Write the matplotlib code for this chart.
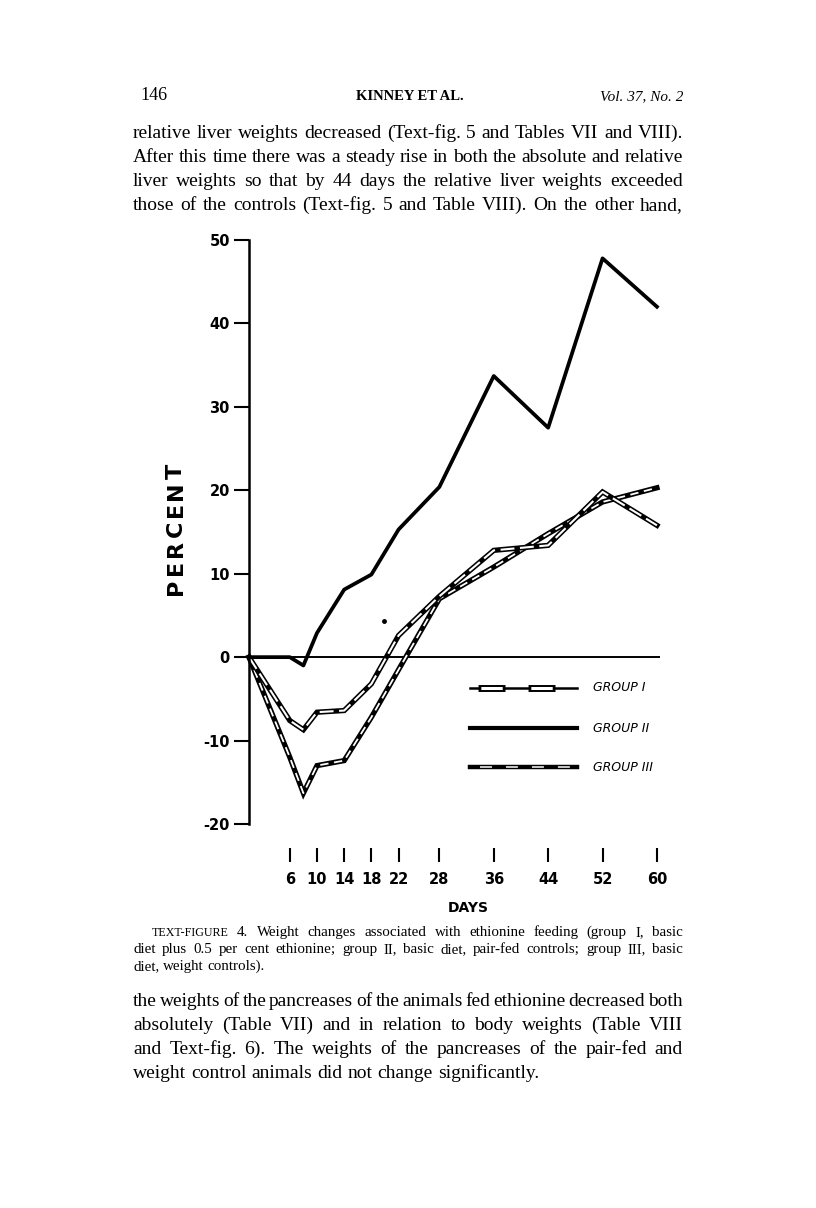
import numpy as np
import matplotlib.pyplot as plt

plt.rcParams['lines.scale_dashes'] = False

# --- chart data ---
days = [0, 6, 8, 10, 14, 18, 22, 28, 36, 44, 52, 60]
group1 = [0, -7.6, -8.7, -6.6, -6.4, -3.2, 2.6, 7.3, 12.8, 13.4, 19.8, 15.8]
group2 = [0, 0, -1.0, 2.9, 8.1, 9.9, 15.3, 20.4, 33.7, 27.5, 47.8, 42.0]
group3 = [0, -12.0, -16.3, -13.0, -12.4, -7.2, -1.5, 7.0, 10.8, 14.8, 18.6, 20.3]
tick_days = [6, 10, 14, 18, 22, 28, 36, 44, 52, 60]
y_ticks = [-20, -10, 0, 10, 20, 30, 40, 50]
y_labels = ['-20', '-10', '0', '10', '20', '30', '40', '50']
legend_labels = ['GROUP I', 'GROUP II', 'GROUP III']
stray_day, stray_val = [19.9], [4.3]

# --- page text ---
header = ['146', 'KINNEY ET AL.', 'Vol. 37, No. 2']
para_top = [
    "relative liver weights decreased (Text-fig. 5 and Tables VII and VIII).",
    "After this time there was a steady rise in both the absolute and relative",
    "liver weights so that by 44 days the relative liver weights exceeded",
    "those of the controls (Text-fig. 5 and Table VIII). On the other hand,",
]
caption = [
    "TEXT-FIGURE 4. Weight changes associated with ethionine feeding (group I, basic",
    "diet plus 0.5 per cent ethionine; group II, basic diet, pair-fed controls; group III, basic",
    "diet, weight controls).",
]
para_bottom = [
    "the weights of the pancreases of the animals fed ethionine decreased both",
    "absolutely (Table VII) and in relation to body weights (Table VIII",
    "and Text-fig. 6). The weights of the pancreases of the pair-fed and",
    "weight control animals did not change significantly.",
]

W, H = 816, 1208
fig = plt.figure(figsize=(W / 100, H / 100), dpi=100)
renderer = fig.canvas.get_renderer()
serif = 'Liberation Serif'


def put_line(text, x0, x1, y, size, justify=True, min_gap=3.0, **kw):
    words = text.split(' ')
    texts = []
    for w in words:
        fs = size * 0.8 if w == 'TEXT-FIGURE' else size
        texts.append(fig.text(0, 0, w, fontsize=fs, va='baseline', family=serif, **kw))
    widths = [t.get_window_extent(renderer).width for t in texts]
    n = len(words)
    if justify and n > 1:
        gap = (x1 - x0 - sum(widths)) / (n - 1)
        if gap < min_gap:
            # squeeze the words a little so the line still fits
            scale = (x1 - x0 - min_gap * (n - 1)) / sum(widths)
            for t in texts:
                t.set_fontsize(t.get_fontsize() * scale)
            widths = [w * scale for w in widths]
            gap = min_gap
    else:
        gap = size * 0.26 * 100 / 72
    x = x0
    for t, w in zip(texts, widths):
        t.set_position((x / W, 1 - y / H))
        x += w + gap


# header
fig.text(140 / W, 1 - 100 / H, header[0], fontsize=13, family=serif, va='baseline')
fig.text(410 / W, 1 - 100 / H, header[1], fontsize=10.5, family=serif, weight='bold',
         va='baseline', ha='center')
fig.text(683 / W, 1 - 100 / H, header[2], fontsize=11, family=serif, style='italic',
         va='baseline', ha='right')

for i, line in enumerate(para_top):
    put_line(line, 133, 683, 138 + 24 * i, 14)
for i, line in enumerate(para_bottom):
    put_line(line, 133, 683, 1006 + 24 * i, 14, justify=(i < 3))
put_line(caption[0], 152, 683, 936, 10.8, min_gap=2.5)
put_line(caption[1], 133, 683, 953, 10.8, min_gap=2.5)
put_line(caption[2], 133, 683, 970, 10.8, justify=False)

# --- chart ---
ax = fig.add_axes([249 / W, 1 - 824 / H, 411 / W, 584 / H])
ax.set_xlim(0, 60.45)
ax.set_ylim(-20, 50)
ax.patch.set_alpha(0)
for s in ['top', 'right']:
    ax.spines[s].set_visible(False)
ax.spines['left'].set_linewidth(1.8)
ax.spines['bottom'].set_position(('outward', 27.4))
ax.spines['bottom'].set_color('none')

ax.axhline(0, color='k', lw=1.4)

ax.plot(days, group3, color='k', lw=3.8, clip_on=False, solid_joinstyle='miter')
ax.plot(days, group3, color='white', lw=1.3, dashes=(6, 4), clip_on=False)
ax.plot(days, group1, color='k', lw=3.8, clip_on=False, solid_joinstyle='miter')
ax.plot(days, group1, color='white', lw=1.5, dashes=(10, 4), clip_on=False)
ax.plot(days, group2, color='k', lw=2.7, clip_on=False)
ax.plot(stray_day, stray_val, 'o', color='k', ms=2.5)

ax.set_yticks(y_ticks)
ax.set_yticklabels(y_labels, fontsize=10.5, weight='bold')
ax.tick_params(axis='y', length=10.8, width=1.5, pad=3)
ax.set_xticks(tick_days)
ax.set_xticklabels([str(d) for d in tick_days], fontsize=10.5, weight='bold')
ax.tick_params(axis='x', direction='in', length=10, width=1.5, pad=7, color='k')

# legend samples, hand placed
lx0, lx1, ltx = 0.537, 0.797, 0.836
ly = [0.233, 0.164, 0.0976]
ax.plot([lx0, lx1], [ly[0]] * 2, transform=ax.transAxes, color='k', lw=1.8)
ax.plot([lx0, lx1], [ly[0]] * 2, transform=ax.transAxes, color='k', lw=5,
        linestyle=(30.2, (19.4, 16.6)))
ax.plot([lx0, lx1], [ly[0]] * 2, transform=ax.transAxes, color='white', lw=2.2,
        linestyle=(28.2, (15.4, 20.6)))
ax.plot([lx0, lx1], [ly[1]] * 2, transform=ax.transAxes, color='k', lw=3)
ax.plot([lx0, lx1], [ly[2]] * 2, transform=ax.transAxes, color='k', lw=3.2)
ax.plot([lx0, lx1], [ly[2]] * 2, transform=ax.transAxes, color='white', lw=1.1,
        linestyle=(11.5, (8.6, 10.1)))
for y, lab in zip(ly, legend_labels):
    ax.text(ltx, y, lab, transform=ax.transAxes, fontsize=9, style='italic',
            va='center', ha='left')

# axis titles
for i, ch in enumerate('PERCENT'):
    fig.text(176 / W, 1 - (587 - i * 19.3) / H, ch, rotation=90, fontsize=16,
             weight='bold', ha='center', va='center')
fig.text(468 / W, 1 - 908 / H, 'DAYS', fontsize=10, weight='bold', ha='center', va='center')

fig.savefig('out.png', dpi=100)
